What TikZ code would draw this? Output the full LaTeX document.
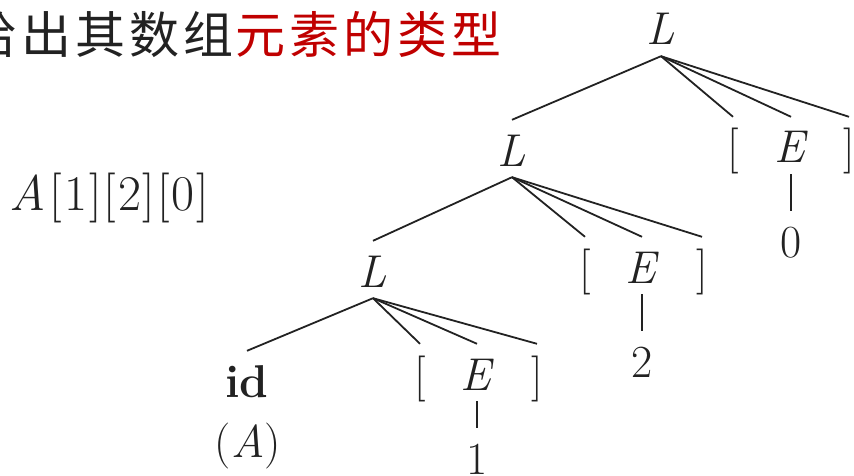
\documentclass[tikz,border=0pt]{standalone}
\usepackage{fontspec}
\newfontfamily\cjk[LetterSpace=8]{Noto Sans CJK SC}
\definecolor{ink}{RGB}{34,34,34}
\definecolor{hlred}{RGB}{192,0,0}
\begin{document}
\begin{tikzpicture}[x=1pt,y=-1pt,
  sym/.style={anchor=base,inner xsep=0pt,inner ysep=11pt,text height=35pt,text depth=0pt,
              font=\fontsize{46}{50}\selectfont,text=ink},
  edge/.style={draw=ink,line width=1.8pt},
  cn/.style={anchor=base west,inner sep=0pt,font=\cjk\fontsize{50}{56}\selectfont}]
\useasboundingbox (0,0) rectangle (854,476);
% heading
\node[cn,text=ink] (t1) at (-33,54) {给出其数组};
\node[cn,text=hlred] (t2) at (235,54) {元素的类型};
% expression
\node[anchor=base west,inner sep=0pt,font=\fontsize{50}{54}\selectfont,text=ink] (expr) at (9,210)
  {\textit{A}\kern4pt[\kern2pt1\kern2pt]\kern2pt[\kern2pt2\kern2pt]\kern2pt[\kern2pt0\kern2pt]};
% tree nodes
\node[sym] (L1) at (661,45) {\textit{L}};
\node[sym] (L2) at (512,166) {\textit{L}};
\node[sym] (lb1) at (733,163) {[};
\node[sym] (E1) at (791,163) {\textit{E}};
\node[sym] (rb1) at (849,163) {]};
\node[sym] (n0) at (791,257) {0};
\node[sym] (L3) at (373,287) {\textit{L}};
\node[sym] (lb2) at (585,283) {[};
\node[sym] (E2) at (642,283) {\textit{E}};
\node[sym] (rb2) at (702,283) {]};
\node[sym] (n2) at (642,377) {2};
\node[sym] (id) at (247,397) {\textbf{id}};
\node[anchor=base,inner sep=0pt,font=\fontsize{46}{50}\selectfont,text=ink] (idA) at (248,457) {(\textit{A})};
\node[sym] (lb3) at (420,390) {[};
\node[sym] (E3) at (477,390) {\textit{E}};
\node[sym] (rb3) at (537,390) {]};
\node[sym] (n1) at (477,474) {1};
% edges
\foreach \p/\c in {L1/L2,L1/lb1,L1/E1,L1/rb1,E1/n0,
                   L2/L3,L2/lb2,L2/E2,L2/rb2,E2/n2,
                   L3/id,L3/lb3,L3/E3,L3/rb3,E3/n1}
  \draw[edge] (\p.south) -- (\c.north);
\end{tikzpicture}
\end{document}
